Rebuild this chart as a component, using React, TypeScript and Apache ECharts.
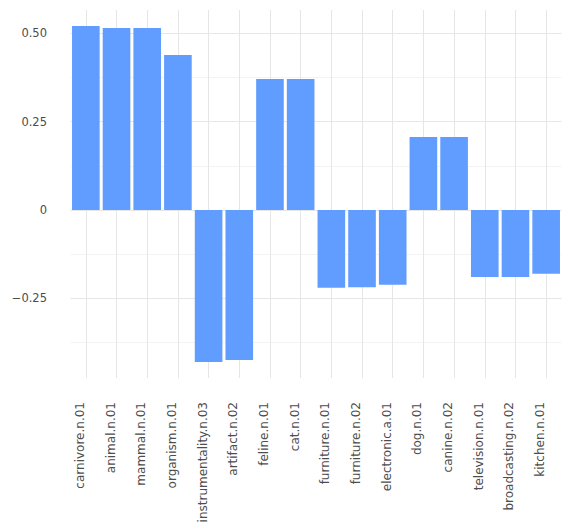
import React, { useEffect, useRef } from "react";
import * as echarts from "echarts";

const categories = [
  "carnivore.n.01",
  "animal.n.01",
  "mammal.n.01",
  "organism.n.01",
  "instrumentality.n.03",
  "artifact.n.02",
  "feline.n.01",
  "cat.n.01",
  "furniture.n.01",
  "furniture.n.02",
  "electronic.a.01",
  "dog.n.01",
  "canine.n.02",
  "television.n.01",
  "broadcasting.n.02",
  "kitchen.n.01",
];

const values = [
  0.521, 0.515, 0.515, 0.439, -0.43, -0.424, 0.371, 0.371, -0.22, -0.218,
  -0.211, 0.207, 0.207, -0.189, -0.189, -0.18,
];

const yMin = -0.475;
const yMax = 0.566;
const majorStep = 0.25;
const minorStep = 0.125;

const FONT = "DejaVu Sans";
const LABEL_COLOR = "#4d4d4d";
const MAJOR_GRID = "#e6e6e6";
const MINOR_GRID = "#f3f3f3";

function fmt(v: number): string {
  const r = v / majorStep;
  if (Math.abs(r - Math.round(r)) > 1e-6) return "";
  if (Math.abs(v) < 1e-9) return "0";
  const s = Math.abs(v).toFixed(2);
  return v < 0 ? "\u2212" + s : s;
}

export default function App() {
  const ref = useRef<HTMLDivElement>(null);
  useEffect(() => {
    if (!ref.current) return;
    const chart = echarts.init(ref.current, undefined, { renderer: "svg" });
    chart.setOption({
      animation: false,
      backgroundColor: "#ffffff",
      grid: { left: 70.5, right: 11.5, top: 10, bottom: 154, containLabel: false },
      xAxis: [
        {
          type: "category",
          data: categories,
          boundaryGap: true,
          axisLine: { show: false },
          axisTick: { show: false },
          splitLine: { show: false },
          axisLabel: {
            rotate: 90,
            interval: 0,
            margin: 24,
            verticalAlign: "bottom",
            fontFamily: FONT,
            fontSize: 12,
            color: LABEL_COLOR,
          },
        },
        {
          type: "value",
          position: "bottom",
          min: -0.5,
          max: categories.length - 0.5,
          minInterval: 1,
          maxInterval: 1,
          axisLine: { show: false },
          axisTick: { show: false },
          axisLabel: { show: false },
          splitLine: {
            show: true,
            showMinLine: false,
            showMaxLine: false,
            lineStyle: { color: MAJOR_GRID, width: 1 },
          },
        },
      ],
      yAxis: {
        type: "value",
        min: yMin,
        max: yMax,
        minInterval: minorStep,
        maxInterval: minorStep,
        axisLine: { show: false },
        axisTick: { show: false },
        splitLine: {
          show: true,
          showMinLine: false,
          showMaxLine: false,
          lineStyle: { color: [MINOR_GRID, MAJOR_GRID], width: 1 },
        },
        axisLabel: {
          showMinLabel: false,
          showMaxLabel: false,
          margin: 23.5,
          fontFamily: FONT,
          fontSize: 11.5,
          color: LABEL_COLOR,
          formatter: (v: number) => fmt(v),
        },
      },
      series: [
        {
          type: "bar",
          xAxisIndex: 0,
          data: values,
          barWidth: "90%",
          itemStyle: { color: "#619CFF" },
          z: 2,
        },
      ],
    });
    return () => chart.dispose();
  }, []);
  return (
    <div
      ref={ref}
      style={{ position: "fixed", left: 0, top: 0, width: 573, height: 532 }}
    />
  );
}
